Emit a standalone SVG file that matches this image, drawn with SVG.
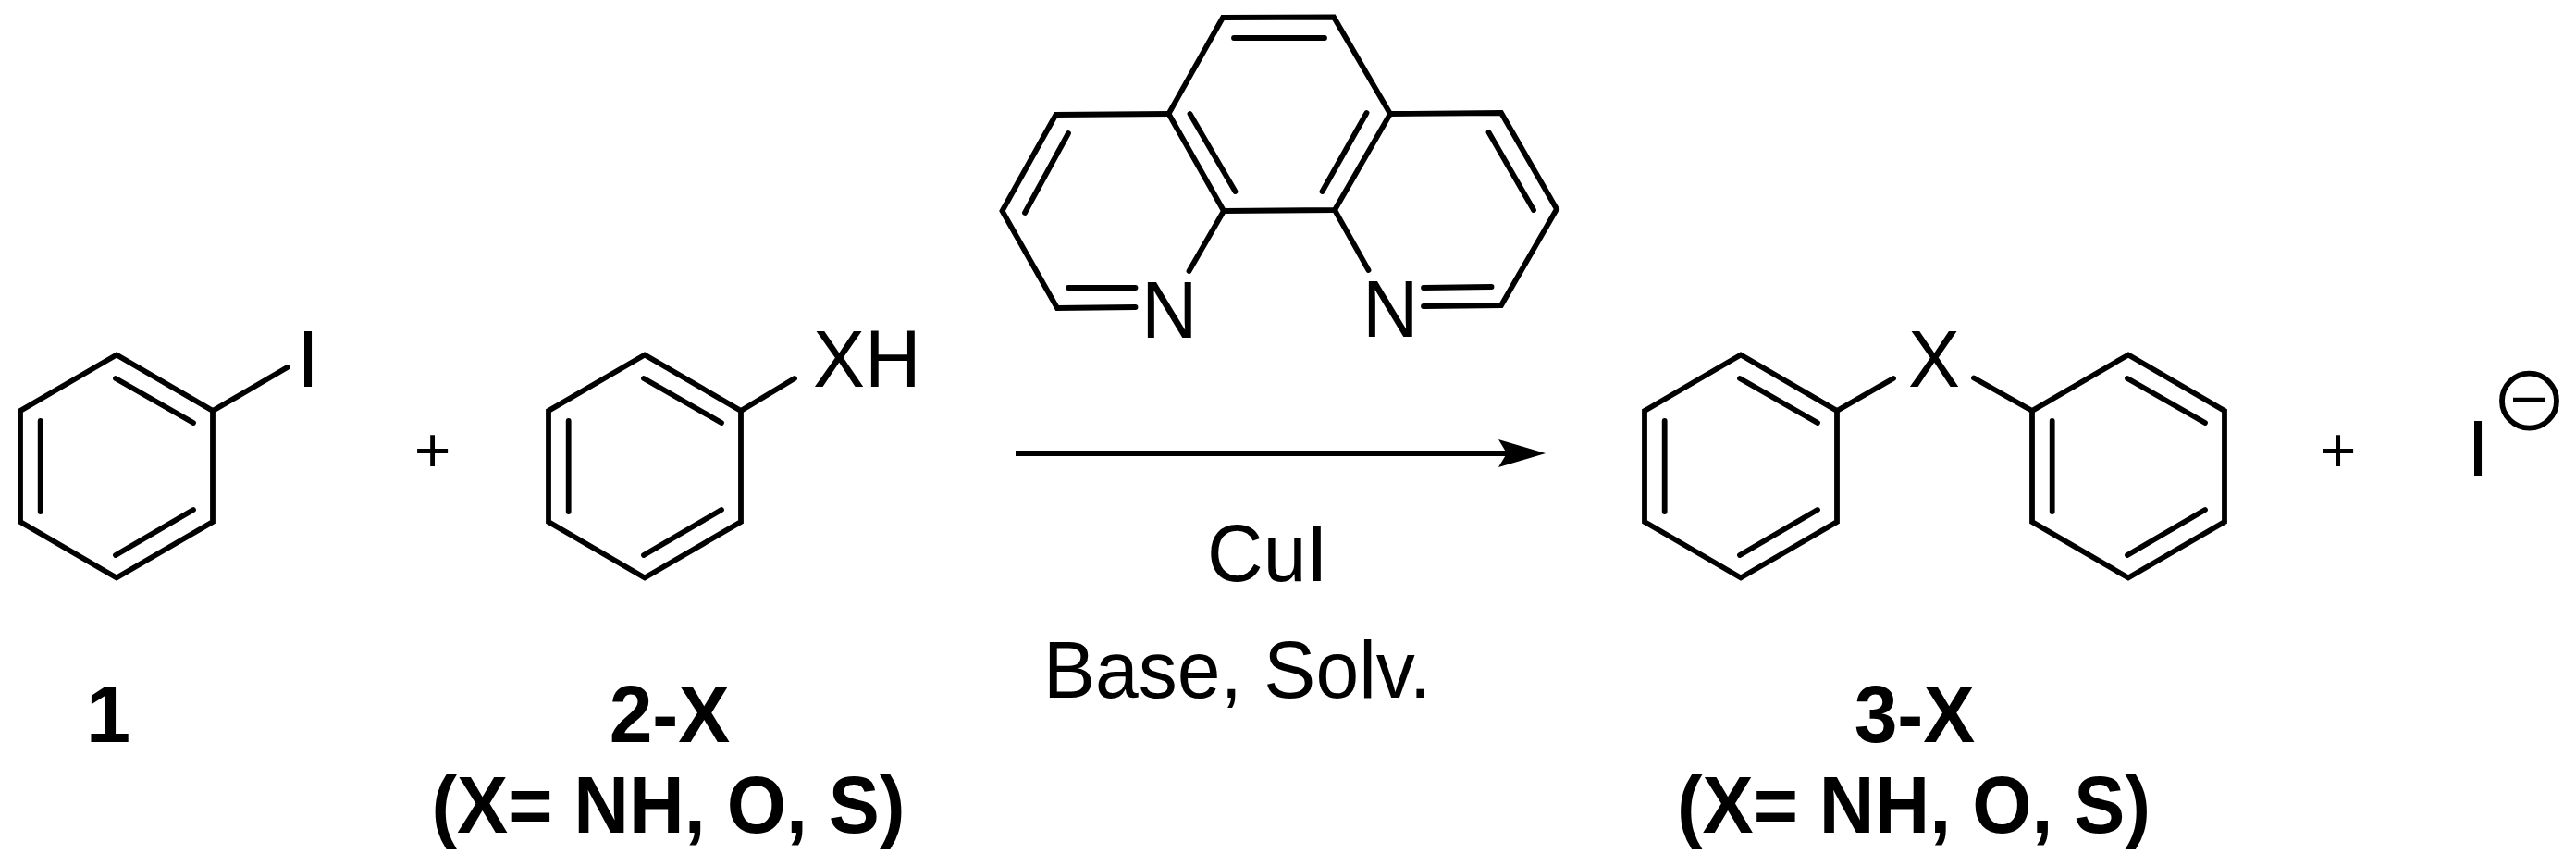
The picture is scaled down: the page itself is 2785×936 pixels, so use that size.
<svg xmlns="http://www.w3.org/2000/svg" width="2785" height="936" viewBox="0 0 2785 936">
<style>
.b{fill:none;stroke:#000;stroke-width:5.800;stroke-linecap:round;stroke-linejoin:miter}
.t{font-family:"Liberation Sans",Arial,sans-serif;font-size:86.500px;fill:#000}
.l{font-family:"Liberation Sans",Arial,sans-serif;font-size:86.500px;font-weight:700;fill:#000;text-anchor:middle}
.p{font-family:"Liberation Sans",Arial,sans-serif;font-size:68px;fill:#000;text-anchor:middle}
</style>
<defs>
<marker id="head" markerUnits="userSpaceOnUse" markerWidth="56" markerHeight="32" refX="9" refY="16" orient="auto">
<path d="M0,1 L51,16 L0,31 L9,16 Z" fill="#000"/>
</marker>
<g id="benz">
<path class="b" d="M126,383.500 L230,444 L230,564 L126,624.500 L22,564 L22,444 Z"/>
<path class="b" d="M125,409 L209,457 M43.700,455 L43.700,553 M209,551 L125,600"/>
</g>
</defs>
<rect width="2785" height="936" fill="#fff"/>
<g id="iodobenzene">
<use href="#benz"/>
<path class="b" d="M230,444 L310.700,397"/>
<text class="t" x="321" y="418">I</text>
</g>
<g id="plus-1"><text class="p" x="467.500" y="510">+</text></g>
<g id="phenyl-XH">
<use href="#benz" x="571"/>
<path class="b" d="M801,444 L859,409"/>
<text class="t" x="879" y="418" textLength="116.700" lengthAdjust="spacingAndGlyphs">XH</text>
</g>
<g id="label-1"><text class="l" x="117" y="802">1</text></g>
<g id="label-2X">
<text class="l" x="724" y="802" textLength="130.700" lengthAdjust="spacingAndGlyphs">2-X</text>
<text class="l" x="722.500" y="900" textLength="512" lengthAdjust="spacingAndGlyphs">(X= NH, O, S)</text>
</g>
<g id="phenanthroline">
<path class="b" d="M1263.500,123 L1322,19 L1442,18.500 L1503,123 L1443,227 L1323,228 Z"/>
<path class="b" d="M1263.500,123 L1141.500,124 L1083.500,228 L1143,333 L1227.500,332"/>
<path class="b" d="M1503,123 L1623,122 L1683,226 L1623,330 L1539,331"/>
<path class="b" d="M1334,41 L1432,41 M1286.500,123 L1335.500,207 M1477.500,122 L1429.500,207 M1155,144 L1108,230 M1609.500,143 L1658,227 M1155,311 L1227.500,311 M1539,311 L1612.500,310 M1323,228 L1285.500,293 M1443,227 L1479.500,292"/>
<text class="t" x="1234" y="365" textLength="60.600" lengthAdjust="spacingAndGlyphs">N</text>
<text class="t" x="1473" y="364" textLength="60.600" lengthAdjust="spacingAndGlyphs">N</text>
</g>
<g id="connectors">
<path d="M1098,490 L1629,490" fill="none" stroke="#000" stroke-width="6" marker-end="url(#head)"/>
</g>
<g id="conditions">
<text class="t" x="1305" y="628" textLength="130.700" lengthAdjust="spacingAndGlyphs">CuI</text>
<text class="t" x="1128" y="754" textLength="419" lengthAdjust="spacingAndGlyphs">Base, Solv.</text>
</g>
<g id="diaryl-X">
<use href="#benz" x="1756"/>
<use href="#benz" x="2175"/>
<path class="b" d="M1986,444 L2047,409 M2134,408.500 L2197,444"/>
<text class="t" x="2063" y="418" textLength="56" lengthAdjust="spacingAndGlyphs">X</text>
</g>
<g id="label-3X">
<text class="l" x="2070" y="802" textLength="130.700" lengthAdjust="spacingAndGlyphs">3-X</text>
<text class="l" x="2069" y="900" textLength="512" lengthAdjust="spacingAndGlyphs">(X= NH, O, S)</text>
</g>
<g id="plus-2"><text class="p" x="2527.500" y="510">+</text></g>
<g id="iodide">
<text class="t" x="2667" y="515">I</text>
<ellipse class="b" cx="2734.500" cy="433.200" rx="29.500" ry="29.500"/>
<path d="M2717,432.300 L2751,432.300" fill="none" stroke="#000" stroke-width="5"/>
</g>
</svg>
